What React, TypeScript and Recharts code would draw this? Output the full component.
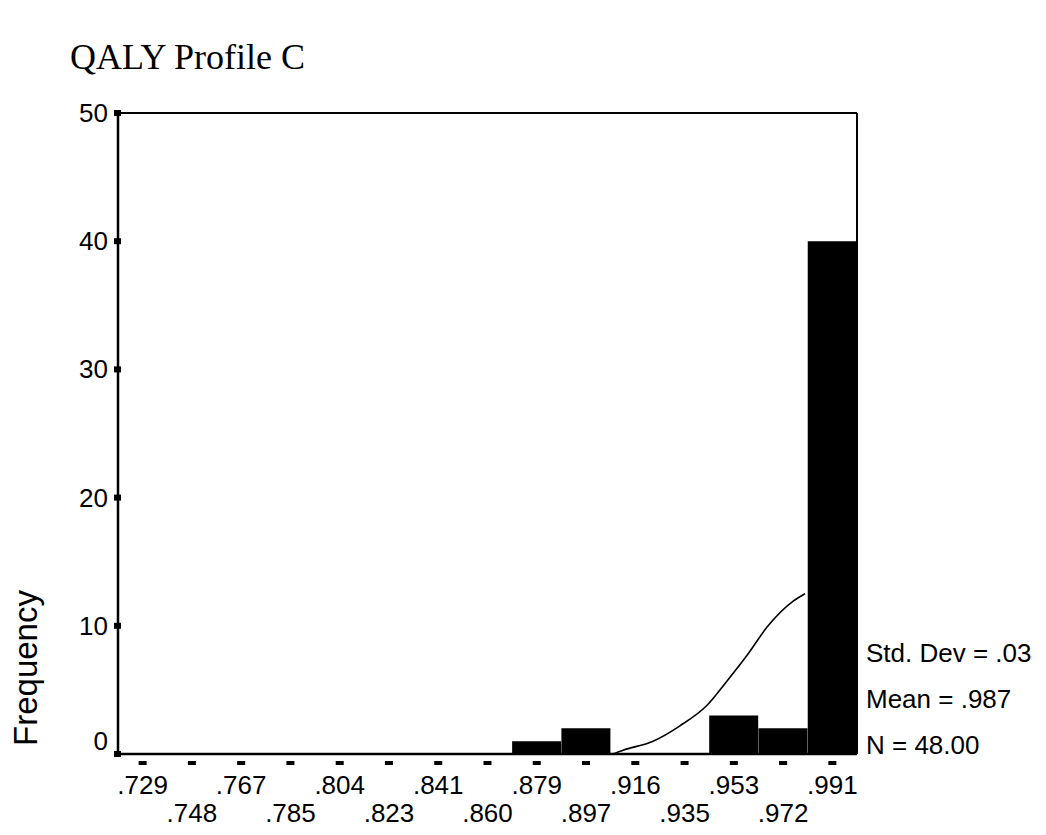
import React from 'react'
import {
  ComposedChart,
  Bar,
  Line,
  XAxis,
  YAxis,
  ReferenceLine,
} from 'recharts'

// bin midpoints of the histogram
const binLabels = [
  '.729', '.748', '.767', '.785', '.804', '.823', '.841', '.860',
  '.879', '.897', '.916', '.935', '.953', '.972', '.991',
]

// cases per bin
const frequencies = [0, 0, 0, 0, 0, 0, 0, 0, 1, 2, 0, 0, 3, 2, 40]

const curveX = [0.9075, 0.9115, 0.9229, 0.9331, 0.9434, 0.951, 0.9586, 0.9662, 0.976, 0.9806]
const curveY = [0, 0.3, 1.0, 2.2, 3.8, 5.7, 7.7, 9.9, 11.9, 12.5]

const yTicks = [0, 10, 20, 30, 40, 50]

const stats = ['Std. Dev = .03', 'Mean = .987', 'N = 48.00']

const binWidth = (0.991 - 0.729) / 14
const xMin = 0.729 - binWidth / 2
const xMax = 0.991 + binWidth / 2

const bars = binLabels.map((label, i) => ({ label, count: frequencies[i] }))
const curve = curveX.map((x, i) => ({ x, y: curveY[i] }))

const SANS = '"Liberation Sans", Arial, sans-serif'

function BinTick({ x, y, payload, index }: any) {
  const lower = index % 2 === 1
  return (
    <g>
      <rect x={x - 4} y={y - 1} width={8} height={4} fill="#000" />
      <text
        x={x}
        y={y + (lower ? 60 : 32)}
        textAnchor="middle"
        fontFamily={SANS}
        fontSize={26}
        fill="#000"
      >
        {payload.value}
      </text>
    </g>
  )
}

function CountTick({ x, y, payload }: any) {
  return (
    <g>
      <rect x={x + 4} y={y - 3} width={7} height={6} fill="#000" />
      <text
        x={x - 2}
        y={y + (payload.value === 0 ? -4 : 9)}
        textAnchor="end"
        fontFamily={SANS}
        fontSize={26}
        fill="#000"
      >
        {payload.value}
      </text>
    </g>
  )
}

export default function App() {
  return (
    <div style={{ position: 'absolute', left: 0, top: 0, width: 1046, height: 835, background: '#fff' }}>
      <ComposedChart
        width={1046}
        height={835}
        data={bars}
        margin={{ top: 113, right: 189, left: 58, bottom: 11 }}
        barCategoryGap={0}
      >
        <XAxis
          dataKey="label"
          interval={0}
          axisLine={{ stroke: '#000', strokeWidth: 2.5 }}
          tickLine={false}
          tick={<BinTick />}
          height={70}
        />
        <XAxis
          xAxisId="num"
          dataKey="x"
          type="number"
          domain={[xMin, xMax]}
          allowDataOverflow
          hide
        />
        <YAxis
          domain={[0, 50]}
          ticks={yTicks}
          axisLine={{ stroke: '#000', strokeWidth: 2.5 }}
          tickLine={false}
          tick={<CountTick />}
          width={60}
        />
        <ReferenceLine y={50} stroke="#000" strokeWidth={2} />
        <ReferenceLine xAxisId="num" x={xMax} stroke="#000" strokeWidth={2} />
        <Bar dataKey="count" fill="#000" isAnimationActive={false} />
        <Line
          xAxisId="num"
          data={curve}
          dataKey="y"
          type="monotone"
          stroke="#000"
          strokeWidth={1.6}
          dot={false}
          isAnimationActive={false}
        />
      </ComposedChart>
      <svg
        width={1046}
        height={835}
        style={{ position: 'absolute', left: 0, top: 0, pointerEvents: 'none' }}
      >
        <text x={70} y={69} fontFamily='"Liberation Serif", serif' fontSize={36} fill="#000">
          QALY Profile C
        </text>
        <text
          x={37}
          y={668}
          transform="rotate(-90 37 668)"
          textAnchor="middle"
          fontFamily={SANS}
          fontSize={33}
          fill="#000"
        >
          Frequency
        </text>
        {stats.map((s, i) => (
          <text key={s} x={866} y={662 + i * 46} fontFamily={SANS} fontSize={26} fill="#000">
            {s}
          </text>
        ))}
      </svg>
    </div>
  )
}
